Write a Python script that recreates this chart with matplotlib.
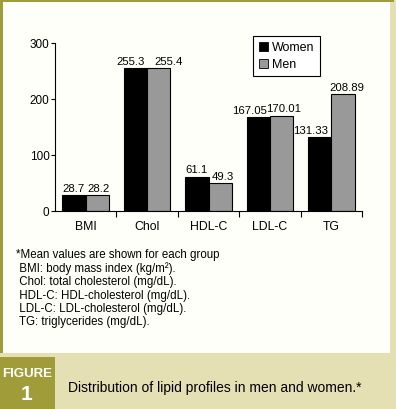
import matplotlib
matplotlib.use('Agg')
import matplotlib.pyplot as plt
from matplotlib.patches import Rectangle, Patch
from matplotlib.ticker import FixedLocator
import numpy as np

plt.rcParams['font.family'] = ['Liberation Sans Narrow', 'Liberation Sans', 'DejaVu Sans']

categories = ['BMI', 'Chol', 'HDL-C', 'LDL-C', 'TG']
women = [28.7, 255.3, 61.1, 167.05, 131.33]
men = [28.2, 255.4, 49.3, 170.01, 208.89]
women_labels = ['28.7', '255.3', '61.1', '167.05', '131.33']
men_labels = ['28.2', '255.4', '49.3', '170.01', '208.89']
footnotes = [
    '*Mean values are shown for each group',
    ' BMI: body mass index (kg/m²).',
    ' Chol: total cholesterol (mg/dL).',
    ' HDL-C: HDL-cholesterol (mg/dL).',
    ' LDL-C: LDL-cholesterol (mg/dL).',
    ' TG: triglycerides (mg/dL).',
]

OLIVE = '#a09c3a'
BAND = '#e4e0b4'
PANEL = '#fffffa'
GRAY = '#999999'

W, H = 396, 409
fig = plt.figure(figsize=(W / 100, H / 100), dpi=100)
fig.patch.set_facecolor(BAND)

def px(x0, y0, x1, y1):
    # pixel box (top-left origin) -> figure fraction rect
    return (x0 / W, 1 - y1 / H), (x1 - x0) / W, (y1 - y0) / H

for box, col in [((0, 0, 390, 353), PANEL), ((0, 0, 3, 353), OLIVE),
                 ((0, 0, 394, 2), OLIVE), ((0, 357, 55, 409), OLIVE)]:
    xy, w, h = px(*box)
    fig.patches.append(Rectangle(xy, w, h, transform=fig.transFigure,
                                 facecolor=col, edgecolor='none', zorder=-5))

ax = fig.add_axes([55 / W, 1 - 211 / H, (362 - 55) / W, (211 - 43) / H])
ax.set_facecolor('none')
x = np.arange(len(categories))
bw = 0.38
ax.bar(x - bw / 2, women, bw, color='black', edgecolor='black', linewidth=0.8, label='Women')
ax.bar(x + bw / 2, men, bw, color=GRAY, edgecolor='black', linewidth=0.8, label='Men')

# small horizontal nudges (points) so neighbouring labels don't collide
w_dx = [-0.7, -3.5, 0, -6.0, -6.5]
m_dx = [0.7, 6.8, 2.2, 1.5, 2.9]
for i in range(len(categories)):
    ax.annotate(women_labels[i], (x[i] - bw / 2, women[i]), xytext=(w_dx[i], 1.0),
                textcoords='offset points', ha='center', va='bottom', fontsize=8.2)
    ax.annotate(men_labels[i], (x[i] + bw / 2, men[i]), xytext=(m_dx[i], 1.0),
                textcoords='offset points', ha='center', va='bottom', fontsize=8.2)

ax.set_xlim(-0.5, 4.5)
ax.set_ylim(0, 300)
ax.set_yticks([0, 100, 200, 300])
ax.tick_params(axis='y', labelsize=8.5, length=3, width=0.8, pad=1)
ax.set_xticks(x)
ax.set_xticklabels(categories)
ax.tick_params(axis='x', which='major', length=0, labelsize=8.8, pad=7)
ax.xaxis.set_minor_locator(FixedLocator(list(x + 0.5)))
ax.tick_params(axis='x', which='minor', length=4, width=0.8)
for s in ['top', 'right']:
    ax.spines[s].set_visible(False)
for s in ['left', 'bottom']:
    ax.spines[s].set_linewidth(0.8)

handles = [Patch(facecolor='black', edgecolor='black', linewidth=0.6),
           Patch(facecolor=GRAY, edgecolor='black', linewidth=0.6)]
leg = fig.legend(handles, ['Women', 'Men'], loc='upper left',
                 bbox_to_anchor=(253 / W, 1 - 36 / H), borderaxespad=0,
                 fontsize=9, handlelength=0.75, handleheight=0.75,
                 handletextpad=0.35, borderpad=0.45, labelspacing=0.4,
                 fancybox=False, framealpha=1, edgecolor='black')
leg.get_frame().set_linewidth(0.8)

fig.text(16 / W, 1 - 249 / H, '\n'.join(footnotes), fontsize=8.3,
         ha='left', va='top', linespacing=1.14)

fig.text(27 / W, 1 - 374 / H, 'FIGURE', color='white', fontsize=9.5,
         fontweight='bold', ha='center', va='center')
fig.text(27 / W, 1 - 394 / H, '1', color='white', fontsize=15,
         fontweight='bold', ha='center', va='center')
fig.text(68 / W, 1 - 388 / H, 'Distribution of lipid profiles in men and women.*',
         fontsize=10, ha='left', va='center')

fig.savefig('out.png', dpi=100, facecolor=fig.get_facecolor())
